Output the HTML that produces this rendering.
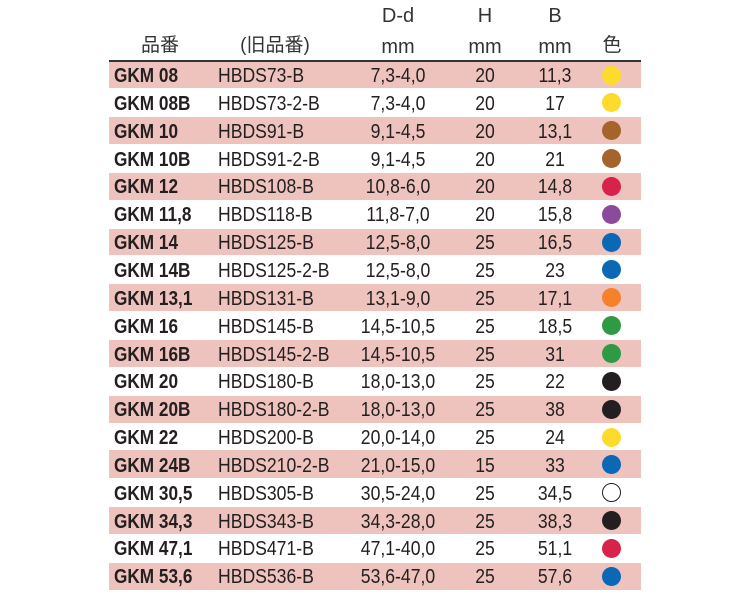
<!DOCTYPE html>
<html><head><meta charset="utf-8"><style>
body{margin:0;width:750px;height:596px;background:#fff;position:relative;overflow:hidden;font-family:"Liberation Sans","Noto Sans CJK JP",sans-serif;color:#231f20}
.band{position:absolute;left:109px;width:532px;background:#efc3bd}
.t{position:absolute;font-size:20px;line-height:20px;white-space:nowrap}
.l{transform:scaleX(.88);transform-origin:left center}
.c{width:120px;text-align:center;transform:scaleX(.88);transform-origin:center center}
.b{font-weight:bold;transform:scaleX(.86)}
.dot{position:absolute;width:19px;height:19px;border-radius:50%}
.h{position:absolute;font-size:20px;line-height:20px;width:120px;text-align:center;color:#333}
</style></head><body>
<div style="position:absolute;left:109px;top:60px;width:532px;height:1.5px;background:#333"></div>
<div class="h" style="left:338px;top:6px">D-d</div>
<div class="h" style="left:425px;top:6px">H</div>
<div class="h" style="left:495px;top:6px">B</div>
<div class="h" style="left:100px;top:36px;font-size:19px">品番</div>
<div class="h" style="left:215px;top:36px;font-size:19px">(旧品番)</div>
<div class="h" style="left:338px;top:37px">mm</div>
<div class="h" style="left:425px;top:37px">mm</div>
<div class="h" style="left:495px;top:37px">mm</div>
<div class="h" style="left:552px;top:36px;font-size:19px">色</div>
<div id="rows"></div>
<script>
var d=[["GKM 08","HBDS73-B","7,3-4,0","20","11,3","#fddb2c"],
["GKM 08B","HBDS73-2-B","7,3-4,0","20","17","#fddb2c"],
["GKM 10","HBDS91-B","9,1-4,5","20","13,1","#a5642b"],
["GKM 10B","HBDS91-2-B","9,1-4,5","20","21","#a5642b"],
["GKM 12","HBDS108-B","10,8-6,0","20","14,8","#d7224c"],
["GKM 11,8","HBDS118-B","11,8-7,0","20","15,8","#8a4b9c"],
["GKM 14","HBDS125-B","12,5-8,0","25","16,5","#0a68b4"],
["GKM 14B","HBDS125-2-B","12,5-8,0","25","23","#0a68b4"],
["GKM 13,1","HBDS131-B","13,1-9,0","25","17,1","#f5822a"],
["GKM 16","HBDS145-B","14,5-10,5","25","18,5","#2f9a46"],
["GKM 16B","HBDS145-2-B","14,5-10,5","25","31","#2f9a46"],
["GKM 20","HBDS180-B","18,0-13,0","25","22","#231f20"],
["GKM 20B","HBDS180-2-B","18,0-13,0","25","38","#231f20"],
["GKM 22","HBDS200-B","20,0-14,0","25","24","#fddb2c"],
["GKM 24B","HBDS210-2-B","21,0-15,0","15","33","#0a68b4"],
["GKM 30,5","HBDS305-B","30,5-24,0","25","34,5","#fff"],
["GKM 34,3","HBDS343-B","34,3-28,0","25","38,3","#231f20"],
["GKM 47,1","HBDS471-B","47,1-40,0","25","51,1","#d7224c"],
["GKM 53,6","HBDS536-B","53,6-47,0","25","57,6","#0a68b4"]];
var h="",rh=27.85;
d.forEach(function(r,i){var y=61.5+i*rh,ty=y+4.5;
if(i%2==0||i==14)h+='<div class="band" style="top:'+y+'px;height:'+(rh-1)+'px"></div>';
if(i==14)h+='<div class="band" style="top:'+(y-1)+'px;height:2px"></div>';
h+='<div class="t l b" style="left:114px;top:'+ty+'px">'+r[0]+'</div>';
h+='<div class="t l" style="left:218px;top:'+ty+'px">'+r[1]+'</div>';
h+='<div class="t c" style="left:338px;top:'+ty+'px">'+r[2]+'</div>';
h+='<div class="t c" style="left:425px;top:'+ty+'px">'+r[3]+'</div>';
h+='<div class="t c" style="left:495px;top:'+ty+'px">'+r[4]+'</div>';
h+='<div class="dot" style="left:602px;top:'+(y+4)+'px;background:'+r[5]+(r[5]=="#fff"?';box-sizing:border-box;border:1px solid #231f20':'')+'"></div>';
});
document.getElementById("rows").innerHTML=h;
</script>
</body></html>
